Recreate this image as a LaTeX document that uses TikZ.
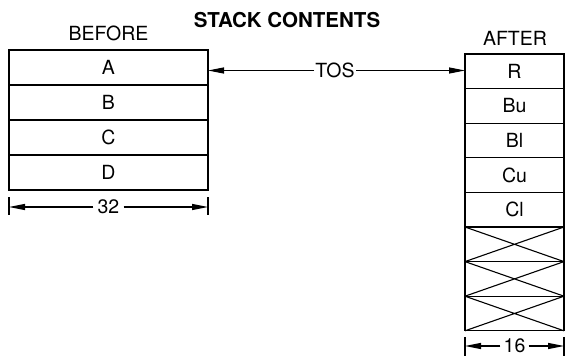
\documentclass[tikz,border=0pt]{standalone}
\usepackage{fontspec}
\setmainfont{TeX Gyre Heros}
\usetikzlibrary{arrows.meta}
\begin{document}
\begin{tikzpicture}[x=1pt,y=-1pt,
  every node/.style={font=\fontsize{19.5}{22}\selectfont},
  lcell/.style={draw,line width=1.1pt,minimum width=199pt,minimum height=35pt,inner sep=0pt,outer sep=0pt},
  rcell/.style={draw,line width=1.1pt,minimum width=99pt,minimum height=34.6pt,inner sep=0pt,outer sep=0pt},
  arr/.style={line width=1.1pt,-{Triangle[length=16pt,width=6pt]}},
  tick/.style={line width=1.1pt},
  lbl/.style={inner xsep=3pt,inner ysep=0pt,fill=white}]
\useasboundingbox (0,0) rectangle (566,356);
% title
\node[font=\fontsize{20.5}{23}\selectfont\bfseries] (title) at (287,20) {STACK CONTENTS};
% before stack
\node (before) at (108.5,33) {BEFORE};
\node[lcell] (A) at (108.5,67.5) {A};
\node[lcell,anchor=north] (B) at (A.south) {B};
\node[lcell,anchor=north] (C) at (B.south) {C};
\node[lcell,anchor=north] (D) at (C.south) {D};
% after stack
\node (after) at (515,38.5) {AFTER};
\node[rcell] (R) at (514.5,71.3) {R};
\node[rcell,anchor=north] (Bu) at (R.south) {Bu};
\node[rcell,anchor=north] (Bl) at (Bu.south) {Bl};
\node[rcell,anchor=north] (Cu) at (Bl.south) {Cu};
\node[rcell,anchor=north] (Cl) at (Cu.south) {Cl};
\node[rcell,anchor=north] (X1) at (Cl.south) {};
\node[rcell,anchor=north] (X2) at (X1.south) {};
\node[rcell,anchor=north] (X3) at (X2.south) {};
\foreach \n in {X1,X2,X3}{
  \draw[line width=1.1pt] (\n.north west) -- (\n.south east) (\n.south west) -- (\n.north east);
}
% TOS
\node[lbl,inner xsep=1pt] (tos) at (335,70.5) {TOS};
\draw[arr] (tos.west) -- (tos.west -| A.east);
\draw[arr] (tos.east) -- (tos.east -| R.west);
% dimension 32
\coordinate (l32a) at ([yshift=-7pt]D.south west);
\coordinate (l32b) at ([yshift=-25pt]D.south west);
\coordinate (r32a) at ([yshift=-7pt]D.south east);
\coordinate (r32b) at ([yshift=-25pt]D.south east);
\draw[tick] (l32a) -- (l32b);
\draw[tick] (r32a) -- (r32b);
\node[lbl,inner xsep=4pt] (d32) at (108.5,207) {32};
\draw[arr] (d32.west) -- (d32.west -| D.west);
\draw[arr] (d32.east) -- (d32.east -| D.east);
% dimension 16
\coordinate (l16a) at ([yshift=-6pt]X3.south west);
\coordinate (l16b) at ([yshift=-26pt]X3.south west);
\coordinate (r16a) at ([yshift=-6pt]X3.south east);
\coordinate (r16b) at ([yshift=-26pt]X3.south east);
\draw[tick] (l16a) -- (l16b);
\draw[tick] (r16a) -- (r16b);
\node[lbl] (d16) at (514.5,346) {16};
\draw[arr] (d16.west) -- (d16.west -| X3.west);
\draw[arr] (d16.east) -- (d16.east -| X3.east);
\end{tikzpicture}
\end{document}
